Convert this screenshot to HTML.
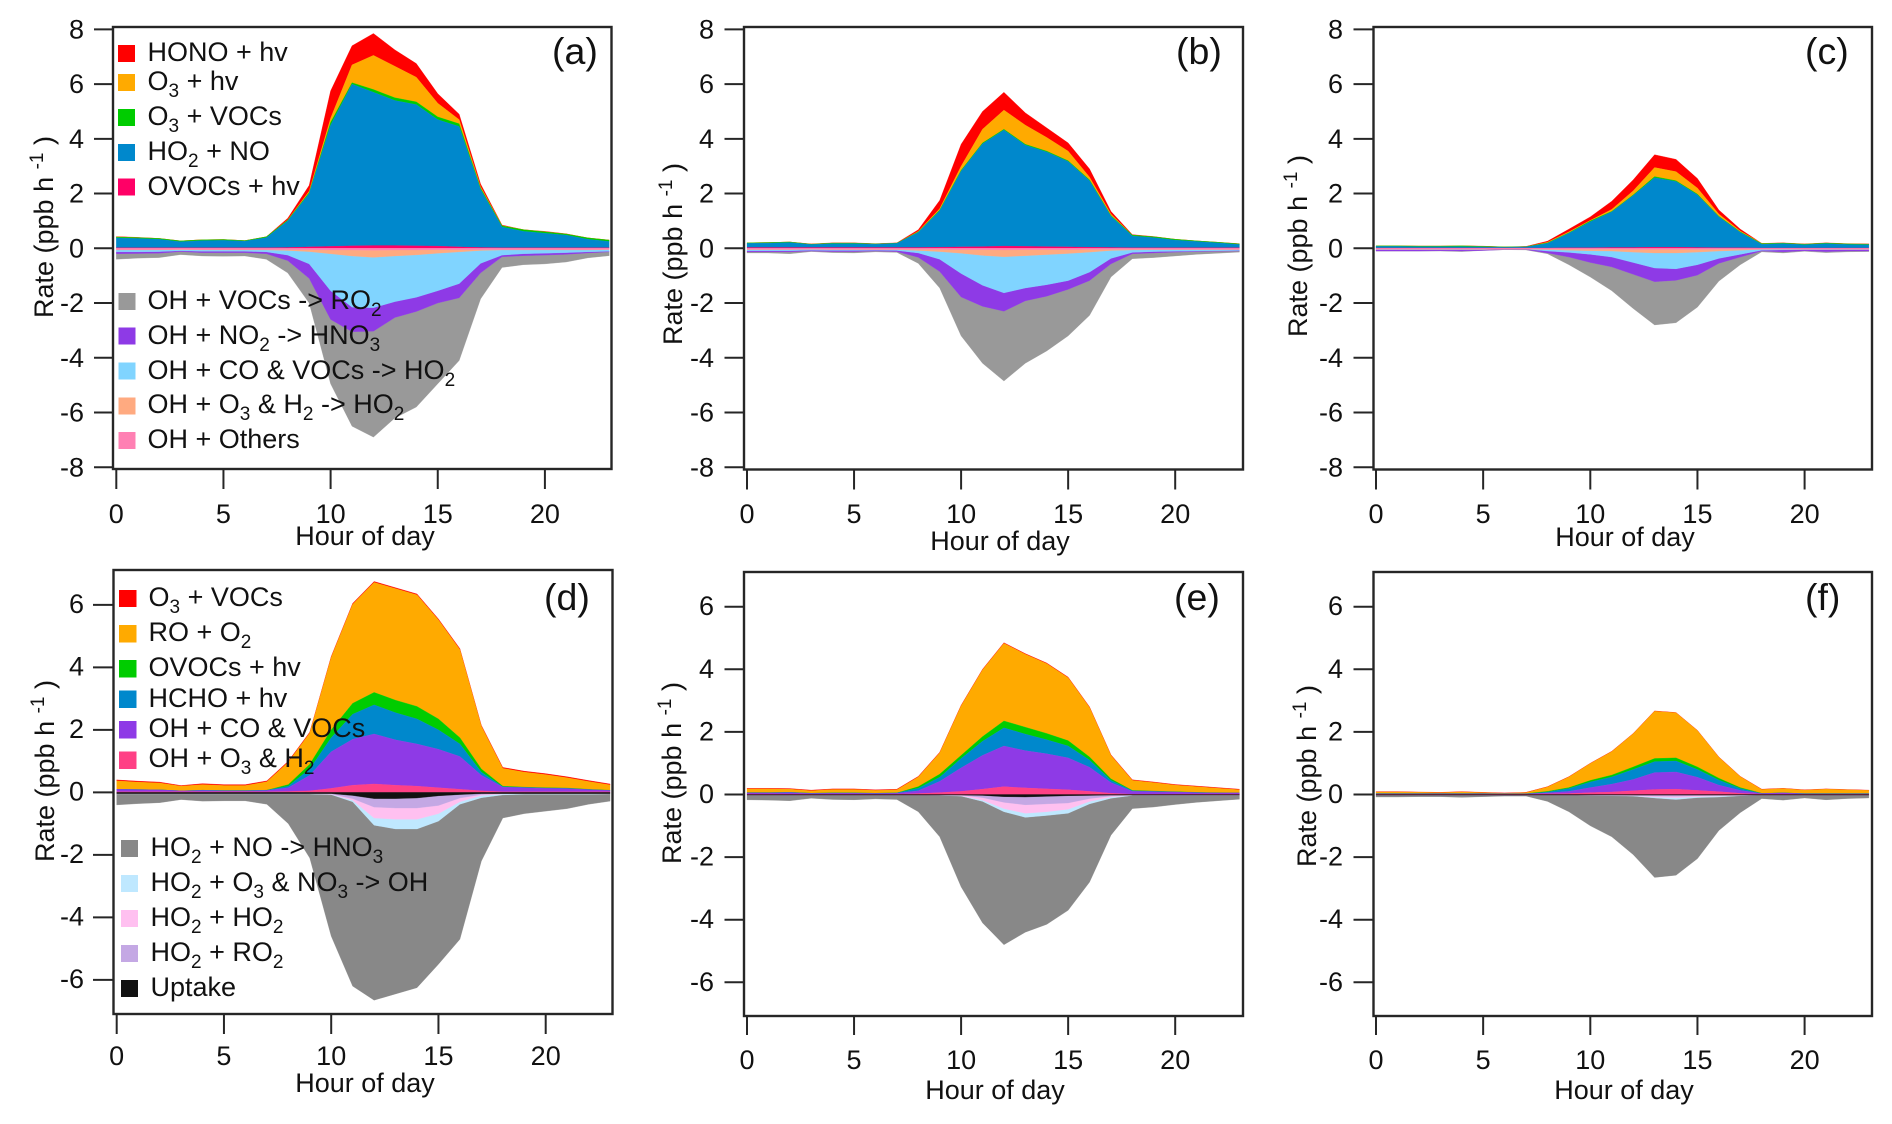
<!DOCTYPE html>
<html lang="en">
<head>
<meta charset="utf-8">
<title>Radical budget rates by hour of day</title>
<style>
html,body{margin:0;padding:0;background:#fff}
svg{display:block;font-family:"Liberation Sans",Arial,sans-serif;fill:#111}
text{font-size:27px}
tspan.s{font-size:19px}
text.lab{font-size:37.5px}
.frame{fill:none;stroke:#262626;stroke-width:2.4}
</style>
</head>
<body>
<svg id="chart" xmlns="http://www.w3.org/2000/svg" width="1892" height="1124" viewBox="0 0 1892 1124">
<g id="areas-a"></g>
<g id="areas-b"></g>
<g id="areas-c"></g>
<g id="areas-d"></g>
<g id="areas-e"></g>
<g id="areas-f"></g>
<g id="axes"></g>

<rect class="frame" x="113" y="27" width="498.5" height="442"/>
<rect class="frame" x="744" y="27" width="499" height="442.5"/>
<rect class="frame" x="1373.5" y="27" width="498.5" height="442.5"/>
<rect class="frame" x="113.5" y="570" width="499" height="444"/>
<rect class="frame" x="744" y="572" width="499" height="444"/>
<rect class="frame" x="1373.5" y="572" width="498.5" height="444"/>

<text class="lab" x="552" y="64">(a)</text>
<text class="lab" x="1176" y="64">(b)</text>
<text class="lab" x="1805" y="64">(c)</text>
<text class="lab" x="544" y="610">(d)</text>
<text class="lab" x="1174" y="610">(e)</text>
<text class="lab" x="1805" y="610">(f)</text>

<text transform="translate(53,318) rotate(-90)">Rate (ppb h <tspan class="s" dy="-10">-1</tspan><tspan dy="10"> )</tspan></text>
<text transform="translate(682,345) rotate(-90)">Rate (ppb h <tspan class="s" dy="-10">-1</tspan><tspan dy="10"> )</tspan></text>
<text transform="translate(1307,337) rotate(-90)">Rate (ppb h <tspan class="s" dy="-10">-1</tspan><tspan dy="10"> )</tspan></text>
<text transform="translate(54,862) rotate(-90)">Rate (ppb h <tspan class="s" dy="-10">-1</tspan><tspan dy="10"> )</tspan></text>
<text transform="translate(681,864) rotate(-90)">Rate (ppb h <tspan class="s" dy="-10">-1</tspan><tspan dy="10"> )</tspan></text>
<text transform="translate(1316,867) rotate(-90)">Rate (ppb h <tspan class="s" dy="-10">-1</tspan><tspan dy="10"> )</tspan></text>

<text x="365" y="545" text-anchor="middle">Hour of day</text>
<text x="1000" y="550" text-anchor="middle">Hour of day</text>
<text x="1625" y="546" text-anchor="middle">Hour of day</text>
<text x="365" y="1092" text-anchor="middle">Hour of day</text>
<text x="995" y="1099" text-anchor="middle">Hour of day</text>
<text x="1624" y="1099" text-anchor="middle">Hour of day</text>

<g>
<rect x="118" y="45" width="17" height="17" fill="#ff0000"/>
<text x="147.5" y="61">HONO + hv</text>
<rect x="118" y="74" width="17" height="17" fill="#ffaa00"/>
<text x="147.5" y="90">O<tspan class="s" dy="7">3</tspan><tspan dy="-7"> + hv</tspan></text>
<rect x="118" y="109" width="17" height="17" fill="#00cc00"/>
<text x="147.5" y="125">O<tspan class="s" dy="7">3</tspan><tspan dy="-7"> + VOCs</tspan></text>
<rect x="118" y="144" width="17" height="17" fill="#0088cc"/>
<text x="147.5" y="160">HO<tspan class="s" dy="7">2</tspan><tspan dy="-7"> + NO</tspan></text>
<rect x="118" y="178.5" width="17" height="17" fill="#ff0066"/>
<text x="147.5" y="195">OVOCs + hv</text>
<rect x="118.500" y="293" width="17" height="17" fill="#999999"/>
<text x="147.5" y="309">OH + VOCs -&gt; RO<tspan class="s" dy="7">2</tspan></text>
<rect x="118.500" y="327.500" width="17" height="17" fill="#8e3ae6"/>
<text x="147.5" y="344">OH + NO<tspan class="s" dy="7">2</tspan><tspan dy="-7"> -&gt; HNO</tspan><tspan class="s" dy="7">3</tspan></text>
<rect x="118.500" y="362.500" width="17" height="17" fill="#80d4ff"/>
<text x="147.5" y="379">OH + CO &amp; VOCs -&gt; HO<tspan class="s" dy="7">2</tspan></text>
<rect x="118.500" y="397.500" width="17" height="17" fill="#ffaa80"/>
<text x="147.5" y="413">OH + O<tspan class="s" dy="7">3</tspan><tspan dy="-7"> &amp; H</tspan><tspan class="s" dy="7">2</tspan><tspan dy="-7"> -&gt; HO</tspan><tspan class="s" dy="7">2</tspan></text>
<rect x="118.500" y="432" width="17" height="17" fill="#ff80b3"/>
<text x="147.5" y="448">OH + Others</text>
</g>

<g>
<rect x="119" y="590" width="17.500" height="17" fill="#ff0000"/>
<text x="148.5" y="606">O<tspan class="s" dy="7">3</tspan><tspan dy="-7"> + VOCs</tspan></text>
<rect x="119" y="625" width="17.500" height="17.500" fill="#ffaa00"/>
<text x="148.5" y="641">RO + O<tspan class="s" dy="7">2</tspan></text>
<rect x="119" y="660" width="17.500" height="17.500" fill="#00cc00"/>
<text x="148.5" y="676">OVOCs + hv</text>
<rect x="119" y="690.500" width="17.500" height="17.500" fill="#0088cc"/>
<text x="148.5" y="707">HCHO + hv</text>
<rect x="119" y="721" width="17.500" height="17.500" fill="#8e3ae6"/>
<text x="148.5" y="737">OH + CO &amp; VOCs</text>
<rect x="119" y="751.500" width="17.500" height="17.500" fill="#ff4085"/>
<text x="148.5" y="767">OH + O<tspan class="s" dy="7">3</tspan><tspan dy="-7"> &amp; H</tspan><tspan class="s" dy="7">2</tspan></text>
<rect x="121" y="840" width="17" height="17" fill="#888888"/>
<text x="150.5" y="856">HO<tspan class="s" dy="7">2</tspan><tspan dy="-7"> + NO -&gt; HNO</tspan><tspan class="s" dy="7">3</tspan></text>
<rect x="121" y="875" width="17" height="17" fill="#bfe8ff"/>
<text x="150.5" y="891">HO<tspan class="s" dy="7">2</tspan><tspan dy="-7"> + O</tspan><tspan class="s" dy="7">3</tspan><tspan dy="-7"> &amp; NO</tspan><tspan class="s" dy="7">3</tspan><tspan dy="-7"> -&gt; OH</tspan></text>
<rect x="121" y="910" width="17" height="17" fill="#ffc0f0"/>
<text x="150.5" y="926">HO<tspan class="s" dy="7">2</tspan><tspan dy="-7"> + HO</tspan><tspan class="s" dy="7">2</tspan></text>
<rect x="121" y="945" width="17" height="17" fill="#c4a8e4"/>
<text x="150.5" y="961">HO<tspan class="s" dy="7">2</tspan><tspan dy="-7"> + RO</tspan><tspan class="s" dy="7">2</tspan></text>
<rect x="121" y="980" width="17" height="17" fill="#111111"/>
<text x="150.5" y="996">Uptake</text>
</g>
</svg>

<script>
// Hours on the x axis.
const hours = [0,1,2,3,4,5,6,7,8,9,10,11,12,13,14,15,16,17,18,19,20,21,22,23];
const xTickLabels = [0,5,10,15,20];
const yTickLabelsTop = [8,6,4,2,0,-2,-4,-6,-8];
const yTickLabelsBottom = [6,4,2,0,-2,-4,-6];

// Stacked area boundaries (ppb/h), one array per series,
// given as the running stack level after that series has been added.
// Panel (a)
const aOVOC = [.02,.02,.02,.02,.02,.02,.02,.02,.03,.05,.07,.09,.1,.1,.09,.08,.05,.03,.02,.02,.02,.02,.02,.02];
const aHO2NO = [.38,.36,.33,.24,.28,.29,.26,.39,1.0,2.0,4.5,6.0,5.7,5.4,5.25,4.7,4.45,2.15,.78,.62,.55,.48,.33,.25];
const aO3VOC = [.41,.39,.36,.27,.31,.32,.28,.42,1.03,2.04,4.6,6.05,5.8,5.5,5.35,4.8,4.55,2.2,.82,.68,.6,.52,.38,.3];
const aO3hv = [.42,.39,.36,.27,.31,.32,.28,.42,1.04,2.09,4.75,6.7,7.05,6.65,6.25,5.3,4.7,2.25,.83,.68,.6,.52,.38,.3];
const aHONO = [.43,.4,.36,.27,.31,.32,.28,.42,1.1,2.3,5.75,7.4,7.85,7.25,6.75,5.65,4.9,2.35,.85,.68,.62,.53,.38,.3];
const aOthers = [-.05,-.05,-.05,-.04,-.05,-.05,-.05,-.05,-.05,-.05,-.06,-.06,-.07,-.06,-.06,-.05,-.05,-.05,-.05,-.05,-.05,-.05,-.05,-.04];
const aO3H2 = [-.06,-.06,-.06,-.05,-.06,-.06,-.06,-.06,-.08,-.12,-.2,-.28,-.33,-.28,-.24,-.18,-.13,-.08,-.06,-.06,-.06,-.06,-.06,-.05];
const aCO = [-.13,-.13,-.12,-.09,-.11,-.11,-.11,-.13,-.25,-.57,-1.55,-2.15,-2.17,-1.95,-1.79,-1.55,-1.29,-.55,-.25,-.2,-.18,-.16,-.13,-.11];
const aNO2 = [-.2,-.19,-.18,-.12,-.16,-.16,-.16,-.2,-.45,-1.1,-2.6,-3.05,-3.03,-2.53,-2.31,-2.0,-1.81,-.9,-.31,-.27,-.25,-.22,-.17,-.13];
const aVOC = [-.4,-.36,-.34,-.23,-.28,-.29,-.28,-.4,-.9,-2.0,-4.95,-6.5,-6.9,-6.2,-5.8,-4.95,-4.1,-1.85,-.7,-.6,-.57,-.5,-.35,-.27];

// Panel (b)
const bOVOC = [.03,.03,.03,.03,.03,.03,.03,.03,.03,.04,.05,.06,.08,.07,.06,.05,.04,.03,.02,.02,.02,.02,.02,.02];
const bHO2NO = [.18,.19,.21,.14,.17,.17,.15,.18,.58,1.37,2.82,3.82,4.32,3.77,3.52,3.17,2.47,1.17,.45,.39,.3,.25,.2,.14];
const bO3VOC = [.2,.21,.23,.15,.19,.19,.16,.19,.6,1.4,2.85,3.85,4.35,3.8,3.55,3.2,2.5,1.2,.48,.42,.33,.27,.22,.16];
const bO3hv = [.2,.21,.23,.15,.19,.19,.16,.19,.62,1.45,3.0,4.35,5.05,4.5,4.05,3.55,2.6,1.25,.48,.42,.33,.27,.22,.16];
const bHONO = [.2,.21,.23,.16,.2,.2,.17,.2,.68,1.75,3.8,5.0,5.7,4.95,4.4,3.85,2.9,1.35,.5,.43,.33,.27,.22,.17];
const bOthers = [-.04,-.04,-.04,-.03,-.04,-.04,-.04,-.04,-.04,-.04,-.05,-.05,-.06,-.05,-.05,-.05,-.04,-.04,-.04,-.04,-.04,-.04,-.04,-.04];
const bO3H2 = [-.05,-.05,-.05,-.04,-.05,-.05,-.05,-.05,-.08,-.12,-.18,-.26,-.31,-.27,-.23,-.19,-.14,-.08,-.06,-.05,-.05,-.05,-.05,-.05];
const bCO = [-.09,-.09,-.09,-.07,-.08,-.08,-.07,-.08,-.17,-.4,-.92,-1.35,-1.63,-1.45,-1.33,-1.18,-.87,-.37,-.15,-.12,-.11,-.1,-.09,-.08];
const bNO2 = [-.13,-.13,-.13,-.1,-.12,-.12,-.1,-.12,-.33,-.85,-1.78,-2.12,-2.3,-1.92,-1.75,-1.5,-1.18,-.57,-.2,-.17,-.14,-.12,-.11,-.1];
const bVOC = [-.17,-.17,-.2,-.12,-.16,-.17,-.13,-.15,-.55,-1.45,-3.2,-4.2,-4.85,-4.2,-3.75,-3.2,-2.45,-1.05,-.38,-.34,-.28,-.22,-.18,-.14];

// Panel (c)
const cOVOC = [.01,.01,.01,.01,.01,.01,.01,.01,.01,.02,.02,.03,.03,.04,.04,.03,.02,.02,.01,.01,.01,.01,.01,.01];
const cHO2NO = [.07,.07,.06,.06,.06,.05,.04,.05,.18,.55,.97,1.33,1.93,2.58,2.44,1.95,1.15,.58,.15,.17,.13,.17,.14,.13];
const cO3VOC = [.09,.09,.08,.08,.09,.07,.05,.06,.2,.57,1.0,1.35,1.95,2.62,2.47,1.98,1.17,.6,.17,.19,.15,.19,.16,.15];
const cO3hv = [.09,.09,.08,.08,.09,.07,.05,.06,.22,.6,1.02,1.42,2.1,2.95,2.8,2.2,1.25,.63,.18,.19,.15,.19,.16,.15];
const cHONO = [.09,.09,.08,.08,.09,.08,.05,.07,.26,.7,1.15,1.72,2.5,3.42,3.25,2.55,1.4,.7,.18,.2,.16,.2,.17,.16];
const cOthers = [-.03,-.03,-.03,-.03,-.03,-.03,-.02,-.02,-.03,-.03,-.03,-.03,-.04,-.04,-.04,-.04,-.03,-.03,-.03,-.03,-.03,-.03,-.03,-.03];
const cO3H2 = [-.04,-.04,-.04,-.04,-.04,-.04,-.03,-.03,-.05,-.07,-.09,-.1,-.14,-.17,-.17,-.14,-.1,-.07,-.04,-.04,-.04,-.04,-.04,-.04];
const cCO = [-.05,-.05,-.05,-.05,-.05,-.05,-.03,-.03,-.1,-.15,-.22,-.32,-.52,-.72,-.75,-.6,-.37,-.22,-.07,-.06,-.05,-.05,-.05,-.05];
const cNO2 = [-.1,-.1,-.1,-.09,-.1,-.08,-.05,-.05,-.17,-.32,-.52,-.68,-.95,-1.22,-1.17,-.98,-.55,-.32,-.1,-.13,-.09,-.12,-.1,-.1];
const cVOC = [-.1,-.1,-.1,-.1,-.12,-.08,-.05,-.06,-.2,-.6,-1.05,-1.55,-2.2,-2.8,-2.72,-2.15,-1.2,-.6,-.13,-.17,-.11,-.16,-.13,-.12];

// Panel (d)
const dO3H2 = [.02,.02,.02,.02,.02,.02,.02,.02,.03,.05,.13,.23,.27,.23,.2,.15,.1,.05,.02,.02,.02,.02,.02,.02];
const dCO = [.1,.09,.08,.05,.06,.05,.05,.06,.15,.55,1.3,1.7,1.87,1.68,1.55,1.38,1.15,.55,.17,.15,.13,.12,.09,.06];
const dHCHO = [.1,.09,.08,.05,.07,.06,.06,.07,.2,.75,1.75,2.5,2.8,2.55,2.35,2.0,1.55,.65,.18,.16,.14,.13,.09,.06];
const dOVOC = [.1,.09,.08,.05,.07,.06,.06,.07,.25,.9,2.0,2.85,3.2,2.95,2.75,2.35,1.75,.75,.2,.17,.15,.14,.1,.07];
const dRO = [.37,.33,.3,.2,.25,.22,.22,.34,.97,1.9,4.32,6.02,6.72,6.52,6.32,5.52,4.57,2.12,.77,.65,.57,.47,.35,.24];
const dO3VOC = [.4,.36,.33,.22,.28,.25,.25,.37,1.0,1.93,4.35,6.05,6.75,6.55,6.35,5.55,4.6,2.15,.8,.68,.6,.5,.38,.27];
const dUptake = [-.04,-.04,-.04,-.04,-.04,-.04,-.04,-.04,-.04,-.04,-.04,-.1,-.2,-.2,-.18,-.11,-.07,-.04,-.04,-.04,-.04,-.04,-.04,-.04];
const dRO2 = [-.04,-.04,-.04,-.04,-.04,-.04,-.04,-.04,-.04,-.04,-.05,-.2,-.47,-.5,-.5,-.42,-.18,-.07,-.04,-.04,-.04,-.04,-.04,-.04];
const dHO2 = [-.04,-.04,-.04,-.04,-.04,-.04,-.04,-.04,-.04,-.04,-.06,-.25,-.82,-.86,-.86,-.68,-.3,-.1,-.05,-.04,-.04,-.04,-.04,-.04];
const dO3NO3 = [-.05,-.05,-.05,-.05,-.05,-.05,-.05,-.05,-.05,-.05,-.07,-.3,-1.05,-1.17,-1.17,-.92,-.38,-.17,-.08,-.06,-.06,-.06,-.06,-.05];
const dNO = [-.4,-.36,-.33,-.23,-.28,-.27,-.27,-.38,-1.0,-2.1,-4.6,-6.2,-6.65,-6.45,-6.25,-5.5,-4.7,-2.2,-.82,-.68,-.6,-.52,-.38,-.28];

// Panel (e)
const eO3H2 = [.01,.01,.01,.01,.01,.01,.01,.01,.03,.06,.1,.17,.25,.21,.18,.15,.1,.04,.01,.01,.01,.01,.01,.01];
const eCO = [.05,.05,.06,.03,.04,.04,.03,.04,.12,.42,.85,1.25,1.55,1.4,1.3,1.17,.87,.38,.1,.09,.08,.06,.05,.05];
const eHCHO = [.06,.06,.07,.04,.05,.05,.04,.05,.2,.55,1.15,1.7,2.13,1.93,1.75,1.55,1.1,.45,.12,.1,.08,.06,.05,.05];
const eOVOC = [.06,.06,.07,.04,.05,.05,.04,.05,.25,.65,1.25,1.85,2.35,2.15,1.95,1.72,1.2,.5,.13,.11,.09,.07,.06,.05];
const eRO = [.18,.18,.17,.12,.16,.16,.13,.15,.56,1.33,2.83,3.98,4.83,4.48,4.18,3.73,2.78,1.25,.45,.38,.3,.25,.2,.15];
const eO3VOC = [.2,.2,.19,.14,.18,.18,.15,.17,.58,1.35,2.85,4.0,4.85,4.5,4.2,3.75,2.8,1.27,.47,.4,.32,.27,.22,.17];
const eUptake = [-.02,-.02,-.02,-.02,-.02,-.02,-.02,-.02,-.02,-.02,-.02,-.03,-.07,-.08,-.06,-.04,-.03,-.02,-.02,-.02,-.02,-.02,-.02,-.02];
const eRO2 = [-.02,-.02,-.02,-.02,-.02,-.02,-.02,-.02,-.02,-.02,-.02,-.1,-.25,-.33,-.3,-.27,-.13,-.05,-.02,-.02,-.02,-.02,-.02,-.02];
const eHO2 = [-.02,-.02,-.02,-.02,-.02,-.02,-.02,-.02,-.02,-.02,-.04,-.18,-.45,-.6,-.55,-.47,-.22,-.08,-.02,-.02,-.02,-.02,-.02,-.02];
const eO3NO3 = [-.02,-.02,-.02,-.02,-.02,-.02,-.02,-.02,-.02,-.03,-.05,-.22,-.55,-.73,-.67,-.6,-.3,-.12,-.03,-.03,-.03,-.03,-.03,-.03];
const eNO = [-.17,-.18,-.2,-.12,-.16,-.17,-.14,-.16,-.55,-1.35,-2.95,-4.1,-4.8,-4.4,-4.15,-3.7,-2.8,-1.3,-.45,-.4,-.32,-.25,-.2,-.15];

// Panel (f)
const fO3H2 = [.01,.01,.01,.01,.01,.01,.01,.01,.02,.03,.06,.08,.12,.16,.17,.13,.09,.04,.01,.01,.01,.01,.01,.01];
const fCO = [.02,.02,.02,.02,.02,.02,.02,.02,.05,.1,.22,.33,.48,.7,.72,.55,.3,.13,.03,.05,.02,.02,.02,.02];
const fHCHO = [.03,.03,.03,.03,.03,.03,.02,.02,.08,.19,.4,.56,.8,1.05,1.07,.8,.46,.19,.03,.05,.03,.03,.03,.03];
const fOVOC = [.03,.03,.03,.03,.03,.03,.03,.03,.1,.22,.45,.62,.88,1.15,1.17,.88,.52,.22,.04,.05,.03,.03,.03,.03];
const fRO = [.08,.08,.07,.06,.08,.06,.04,.06,.24,.56,.99,1.37,1.94,2.66,2.61,2.04,1.19,.57,.16,.19,.14,.17,.15,.13];
const fO3VOC = [.09,.09,.08,.07,.09,.07,.05,.07,.25,.57,1.0,1.38,1.95,2.67,2.62,2.05,1.2,.58,.17,.2,.15,.18,.16,.14];
const fUptake = [-.02,-.02,-.02,-.02,-.02,-.02,-.02,-.02,-.02,-.02,-.02,-.02,-.02,-.02,-.02,-.02,-.02,-.02,-.02,-.02,-.02,-.02,-.02,-.02];
const fRO2 = [-.02,-.02,-.02,-.02,-.02,-.02,-.02,-.02,-.02,-.02,-.02,-.02,-.03,-.05,-.06,-.04,-.03,-.02,-.02,-.02,-.02,-.02,-.02,-.02];
const fHO2 = [-.02,-.02,-.02,-.02,-.02,-.02,-.02,-.02,-.02,-.02,-.03,-.03,-.04,-.08,-.1,-.07,-.05,-.03,-.02,-.02,-.02,-.02,-.02,-.02];
const fO3NO3 = [-.02,-.02,-.02,-.02,-.02,-.02,-.02,-.02,-.02,-.02,-.03,-.04,-.05,-.11,-.16,-.1,-.08,-.04,-.02,-.02,-.02,-.02,-.02,-.02];
const fNO = [-.08,-.08,-.07,-.07,-.09,-.07,-.05,-.05,-.22,-.55,-1.0,-1.35,-1.92,-2.65,-2.58,-2.05,-1.15,-.58,-.13,-.18,-.11,-.17,-.13,-.11];

// Colours and stacking order shared by the panels (top row / bottom row).
const topRowStyle = {
  pos: [['ovocs-hv','#ff0066'],['ho2-no','#0088cc'],['o3-vocs','#00cc00'],['o3-hv','#ffaa00'],['hono-hv','#ff0000']],
  neg: [['oh-others','#ff80b3'],['oh-o3-h2','#ffaa80'],['oh-co-vocs','#80d4ff'],['oh-no2','#8e3ae6'],['oh-vocs','#999999']]
};
const bottomRowStyle = {
  pos: [['oh-o3-h2','#ff4085'],['oh-co-vocs','#8e3ae6'],['hcho-hv','#0088cc'],['ovocs-hv','#00cc00'],['ro-o2','#ffaa00'],['o3-vocs','#ff0000']],
  neg: [['uptake','#111111'],['ho2-ro2','#c4a8e4'],['ho2-ho2','#ffc0f0'],['ho2-o3-no3','#bfe8ff'],['ho2-no-hno3','#888888']]
};

// Axis geometry for each panel.
const panels = [
  {id:'a', style:topRowStyle, pos:[aOVOC,aHO2NO,aO3VOC,aO3hv,aHONO], neg:[aOthers,aO3H2,aCO,aNO2,aVOC],
   x0:116.3, xk:21.43, y0:248.3, yk:27.37, yLabels:yTickLabelsTop, frameL:113, tickL:94, labR:84, labDy:9, frameB:469, tickLen:20, labY:523},
  {id:'b', style:topRowStyle, pos:[bOVOC,bHO2NO,bO3VOC,bO3hv,bHONO], neg:[bOthers,bO3H2,bCO,bNO2,bVOC],
   x0:747, xk:21.41, y0:248.3, yk:27.37, yLabels:yTickLabelsTop, frameL:744, tickL:724.5, labR:714, labDy:9, frameB:469.5, tickLen:20, labY:523},
  {id:'c', style:topRowStyle, pos:[cOVOC,cHO2NO,cO3VOC,cO3hv,cHONO], neg:[cOthers,cO3H2,cCO,cNO2,cVOC],
   x0:1376, xk:21.43, y0:248.3, yk:27.37, yLabels:yTickLabelsTop, frameL:1373.5, tickL:1353.5, labR:1343, labDy:9, frameB:469.5, tickLen:20, labY:523},
  {id:'d', style:bottomRowStyle, pos:[dO3H2,dCO,dHCHO,dOVOC,dRO,dO3VOC], neg:[dUptake,dRO2,dHO2,dO3NO3,dNO],
   x0:116.7, xk:21.45, y0:792.4, yk:31.25, yLabels:yTickLabelsBottom, frameL:113.5, tickL:93, labR:84, labDy:8, frameB:1014, tickLen:20, labY:1065},
  {id:'e', style:bottomRowStyle, pos:[eO3H2,eCO,eHCHO,eOVOC,eRO,eO3VOC], neg:[eUptake,eRO2,eHO2,eO3NO3,eNO],
   x0:747, xk:21.41, y0:794.5, yk:31.3, yLabels:yTickLabelsBottom, frameL:744, tickL:724.5, labR:714, labDy:8.5, frameB:1016, tickLen:19, labY:1069},
  {id:'f', style:bottomRowStyle, pos:[fO3H2,fCO,fHCHO,fOVOC,fRO,fO3VOC], neg:[fUptake,fRO2,fHO2,fO3NO3,fNO],
   x0:1376, xk:21.43, y0:794.5, yk:31.3, yLabels:yTickLabelsBottom, frameL:1373.5, tickL:1353.5, labR:1343, labDy:8.5, frameB:1016, tickLen:19, labY:1069}
];

const SVGNS = 'http://www.w3.org/2000/svg';
const axesGroup = document.getElementById('axes');

function bandPoints(lower, upper, xScale, yScale) {
  const fwd = hours.map((h, i) => xScale(h).toFixed(2) + ',' + yScale(upper[i]).toFixed(2));
  const back = hours.map((h, i) => xScale(h).toFixed(2) + ',' + yScale(lower ? lower[i] : 0).toFixed(2)).reverse();
  return fwd.concat(back).join(' ');
}

function drawStack(group, panel, stack, styles, xScale, yScale) {
  // Outermost first so that any seam is covered by the inner neighbour's edge.
  for (let i = stack.length - 1; i >= 0; i--) {
    const el = document.createElementNS(SVGNS, 'polygon');
    el.setAttribute('points', bandPoints(i ? stack[i - 1] : null, stack[i], xScale, yScale));
    el.setAttribute('fill', styles[i][1]);
    el.setAttribute('stroke', styles[i][1]);
    el.setAttribute('stroke-width', '0.3');
    
    
    group.appendChild(el);
  }
}

function drawTick(x1, y1, x2, y2, name) {
  const el = document.createElementNS(SVGNS, 'line');
  el.setAttribute('x1', x1);
  el.setAttribute('y1', y1);
  el.setAttribute('x2', x2);
  el.setAttribute('y2', y2);
  el.setAttribute('stroke', '#262626');
  el.setAttribute('stroke-width', '2');
  
  
  axesGroup.appendChild(el);
}

function drawLabel(x, y, str, anchor, name) {
  const el = document.createElementNS(SVGNS, 'text');
  el.setAttribute('x', x);
  el.setAttribute('y', y);
  el.setAttribute('text-anchor', anchor);
  
  
  el.textContent = str;
  axesGroup.appendChild(el);
}

panels.forEach(function (p) {
  const xScale = h => p.x0 + h * p.xk;
  const yScale = v => p.y0 - v * p.yk;
  const group = document.getElementById('areas-' + p.id);
  drawStack(group, p, p.pos, p.style.pos, xScale, yScale);
  drawStack(group, p, p.neg, p.style.neg, xScale, yScale);

  p.yLabels.forEach(function (v) {
    drawTick(p.tickL, yScale(v), p.frameL, yScale(v), 'y-tick-' + p.id + '-' + v);
    drawLabel(p.labR, yScale(v) + p.labDy, String(v), 'end', 'y-tick-label-' + p.id + '-' + v);
  });
  xTickLabels.forEach(function (v) {
    drawTick(xScale(v), p.frameB, xScale(v), p.frameB + p.tickLen, 'x-tick-' + p.id + '-' + v);
    drawLabel(xScale(v), p.labY, String(v), 'middle', 'x-tick-label-' + p.id + '-' + v);
  });
});
</script>
</body>
</html>
